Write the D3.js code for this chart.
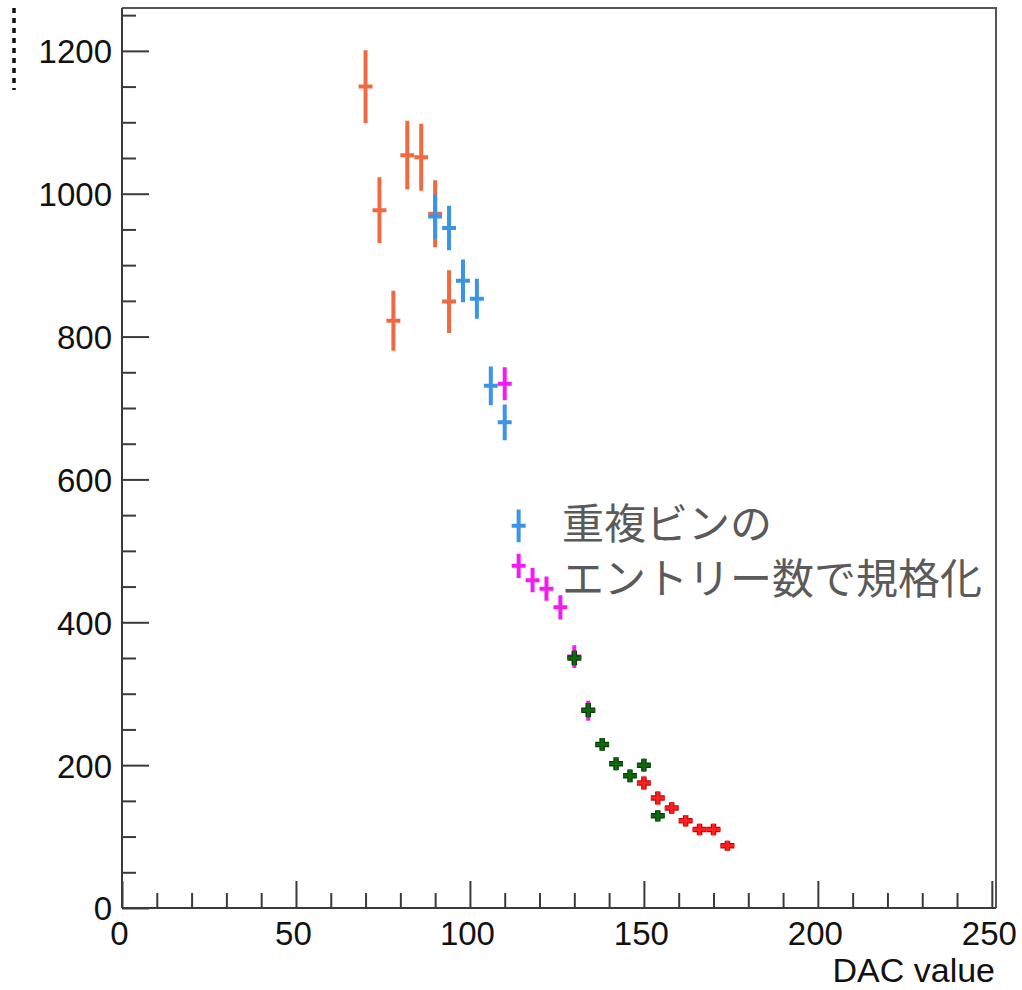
<!DOCTYPE html>
<html>
<head>
<meta charset="utf-8">
<script src="https://cdn.jsdelivr.net/npm/d3@7/dist/d3.min.js"></script>
<style>
  html, body { margin: 0; padding: 0; background: #fff; }
  svg { display: block; }
</style>
</head>
<body>
<div id="chart"></div>
<script>
// DAC scan points, one group per overlapping bin set (bin half-width 2 DAC)
const dacOrange = [70, 74, 78, 82, 86, 90, 94];
const valOrange = [1150, 977, 822, 1054, 1051, 972, 849];
const errOrange = [51, 46, 42, 48, 47, 47, 44];

const dacBlue = [90, 94, 98, 102, 106, 110, 114];
const valBlue = [968, 952, 878, 853, 731, 680, 535];
const errBlue = [31, 31, 30, 28, 27, 25, 23];

const dacMagenta = [110, 114, 118, 122, 126, 130, 134];
const valMagenta = [734, 479, 459, 447, 421, 352, 276];
const errMagenta = [23, 17, 17, 17, 17, 16, 14];

const dacGreen = [130, 134, 138, 142, 146, 150, 154];
const valGreen = [350, 277, 229, 202, 185, 200, 129];
const errGreen = [10, 10, 9, 9, 9, 9, 8];

const dacRed = [150, 154, 158, 162, 166, 170, 174];
const valRed = [175, 154, 140, 122, 110, 110, 87];
const errRed = [9, 9, 8, 8, 8, 8, 7];

const binHalfWidth = 2;

const xMajorTicks = [0, 50, 100, 150, 200, 250];
const yMajorTicks = [0, 200, 400, 600, 800, 1000, 1200];

const xLabel = "DAC value";
const noteLines = ["重複ビンの", "エントリー数で規格化"];

const W = 1022, H = 990;
const plotL = 122, plotR = 996, plotT = 8, plotB = 908;

const svg = d3.select("#chart").append("svg")
  .attr("width", W).attr("height", H);

const x = d3.scaleLinear().domain([0, 251.2]).range([plotL, plotR]);
const y = d3.scaleLinear().domain([0, 1260]).range([plotB, plotT]);

const axisColor = "#3a3a3a";
const font = "'Liberation Sans', Arial, Helvetica, sans-serif";
const fmt = d3.format("d");

// frame (top and right edges)
svg.append("path")
  .attr("d", `M${plotL},${plotT}H${plotR}V${plotB}`)
  .attr("fill", "none").attr("stroke", "#555").attr("stroke-width", 2);

// x axis: minor ticks every 10, major every 50, drawn inward
const xMinor = d3.range(0, 251, 10).filter(v => v % 50 !== 0);
svg.append("g").attr("transform", `translate(0,${plotB})`)
  .call(d3.axisBottom(x).tickValues(xMinor).tickSize(-15).tickFormat(""))
  .call(g => g.select(".domain").remove());
const xAx = svg.append("g").attr("transform", `translate(0,${plotB})`)
  .call(d3.axisBottom(x).tickValues(xMajorTicks).tickFormat(fmt)
    .tickSize(-27).tickSizeOuter(0).tickPadding(0));
xAx.select(".domain").attr("d", `M${plotL},0H${plotR}`);
xAx.selectAll("text")
  .attr("y", 37).attr("dy", 0).attr("dx", -3)
  .attr("font-family", font).attr("font-size", 33).attr("fill", "#111");

// y axis: minor ticks every 50, major every 200
const yMinor = d3.range(0, 1251, 50).filter(v => v % 200 !== 0);
svg.append("g").attr("transform", `translate(${plotL},0)`)
  .call(d3.axisLeft(y).tickValues(yMinor).tickSize(-14).tickFormat(""))
  .call(g => g.select(".domain").remove());
const yAx = svg.append("g").attr("transform", `translate(${plotL},0)`)
  .call(d3.axisLeft(y).tickValues(yMajorTicks).tickFormat(fmt)
    .tickSize(-27).tickSizeOuter(0).tickPadding(0));
yAx.select(".domain").attr("d", `M0,${plotT}V${plotB}`);
yAx.selectAll("text")
  .attr("x", -10).attr("dy", "0.36em")
  .attr("font-family", font).attr("font-size", 33).attr("fill", "#111");

svg.selectAll(".tick line, .domain").attr("stroke", axisColor).attr("stroke-width", 2);

// axis title
svg.append("text")
  .attr("x", 995).attr("y", 982).attr("text-anchor", "end")
  .attr("font-family", font).attr("font-size", 34).attr("fill", "#111")
  .text(xLabel);

// remnant of the rotated y title at the left edge
svg.append("line")
  .attr("x1", 14).attr("x2", 14).attr("y1", 8).attr("y2", 90)
  .attr("stroke", "#111").attr("stroke-width", 3.5)
  .attr("stroke-dasharray", "5,5");

// error-bar crosses
function drawSeries(dac, val, err, color, outline) {
  const g = svg.append("g");
  const data = dac.map((d, i) => ({ d, v: val[i], e: err[i] }));
  const paths = d => `M${x(d.d - binHalfWidth)},${y(d.v)}H${x(d.d + binHalfWidth)}` +
                     `M${x(d.d)},${y(d.v + d.e)}V${y(d.v - d.e)}`;
  if (outline) {
    g.selectAll("path.o").data(data).join("path").attr("class", "o")
      .attr("d", paths).attr("fill", "none")
      .attr("stroke", outline).attr("stroke-width", 5.5).attr("stroke-linecap", "butt");
  }
  g.selectAll("path.m").data(data).join("path").attr("class", "m")
    .attr("d", paths).attr("fill", "none")
    .attr("stroke", color).attr("stroke-width", outline ? 3 : 4)
    .attr("stroke-linecap", "butt");
}

drawSeries(dacOrange, valOrange, errOrange, "#ef6a40", null);
drawSeries(dacBlue, valBlue, errBlue, "#3b94e4", null);
drawSeries(dacMagenta, valMagenta, errMagenta, "#f21cf2", null);
drawSeries(dacGreen, valGreen, errGreen, "#0f6a0f", "#0b3a0b");
drawSeries(dacRed, valRed, errRed, "#ff1f1f", "#b01010");

// annotation
noteLines.forEach((t, i) => {
  svg.append("text")
    .attr("x", 562).attr("y", 539 + i * 55)
    .attr("font-family", "'Noto Sans CJK JP', 'Noto Sans CJK SC', sans-serif")
    .attr("font-size", 42).attr("fill", "#5a5a5a")
    .text(t);
});
</script>
</body>
</html>
